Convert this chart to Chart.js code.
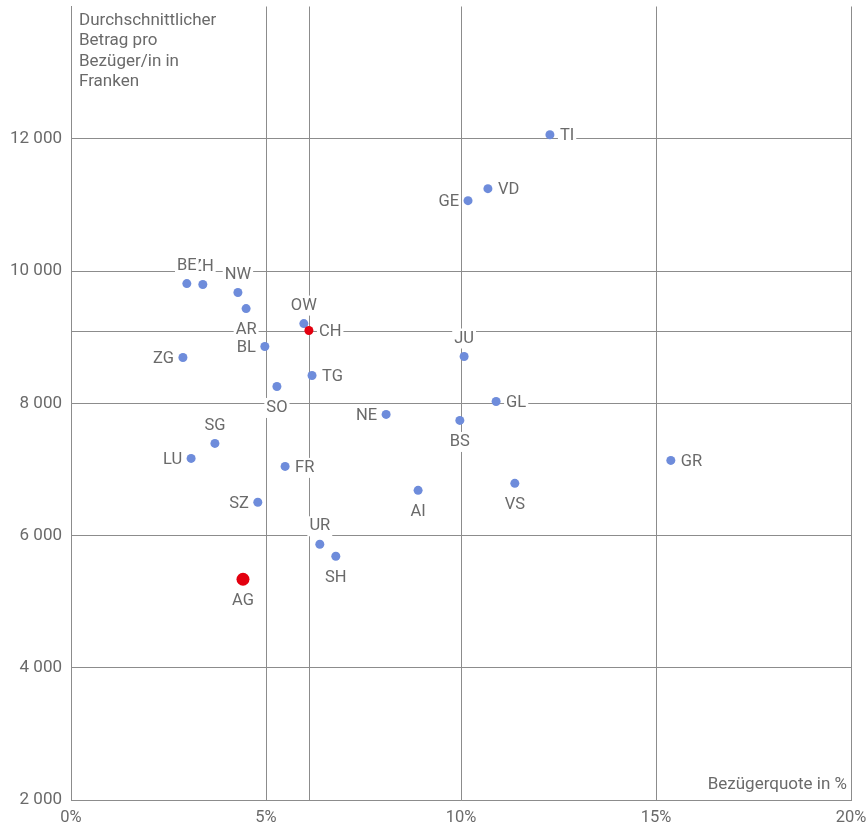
<!DOCTYPE html>
<html>
<head>
<meta charset="utf-8">
<script src="https://cdn.jsdelivr.net/npm/chart.js@4.4.1/dist/chart.umd.min.js"></script>
<style>
  html, body { margin: 0; padding: 0; background: #fff; }
  #wrap { width: 868px; height: 830px; position: relative; }
</style>
</head>
<body>
<div id="wrap"><canvas id="c" width="868" height="830"></canvas></div>
<script>
// ---- Data ----
const cantons = ['ZH','BE','LU','UR','SZ','OW','NW','GL','ZG','FR','SO','BS','BL','SH','AR','AI','SG','GR','AG','TG','TI','VD','VS','NE','GE','JU','CH'];
const quote   = [3.38, 2.97, 3.08, 6.38, 4.79, 5.97, 4.28, 10.90, 2.87, 5.49, 5.28, 9.97, 4.97, 6.79, 4.49, 8.90, 3.69, 15.38, 4.41, 6.18, 12.28, 10.69, 11.38, 8.08, 10.18, 10.08, 6.10];
const betrag  = [9795, 9810, 7166, 5867, 6502, 9205, 9674, 8027, 8692, 7045, 8254, 7740, 8858, 5686, 9432, 6683, 7393, 7136, 5338, 8420, 12061, 11245, 6789, 7831, 11064, 8707, 9100];
const xTicks = [0, 5, 10, 15, 20];
const yTicks = [2000, 4000, 6000, 8000, 10000, 12000];
const chAverage = { quote: 6.10, betrag: 9100 };
const yTitle = ['Durchschnittlicher', 'Betrag pro', 'Bezüger/in in', 'Franken'];
const xTitle = 'Bezügerquote in %';

// ---- Styling ----
const labelSide = {
  ZH:'top', BE:'top', LU:'left', UR:'top', SZ:'left', OW:'top', NW:'top', GL:'right', ZG:'left',
  FR:'right', SO:'bottom', BS:'bottom', BL:'left', SH:'bottom', AR:'bottom', AI:'bottom', SG:'top',
  GR:'right', AG:'bottom', TG:'right', TI:'right', VD:'right', VS:'bottom', NE:'left', GE:'left',
  JU:'top', CH:'right'
};
const highlight = ['CH', 'AG'];
const BLUE = '#6e8cdb', RED = '#e3000f', GRID = '#8c8c8c', TEXT = '#6a6a6a';
const FONT = 'Roboto, "Liberation Sans", sans-serif';

const points = cantons.map((c, i) => ({ x: quote[i], y: betrag[i], label: c }));

const fmt = v => String(v).replace(/\B(?=(\d{3})+(?!\d))/g, ' ');

const overlay = {
  id: 'overlay',
  beforeDatasetsDraw(chart) {
    const { ctx, chartArea: a, scales: { x, y } } = chart;
    ctx.save();
    ctx.strokeStyle = GRID;
    ctx.lineWidth = 1;
    const px = Math.round(x.getPixelForValue(chAverage.quote)) + 0.5;
    const py = Math.round(y.getPixelForValue(chAverage.betrag)) + 0.5;
    ctx.beginPath();
    ctx.moveTo(px, a.top); ctx.lineTo(px, a.bottom);
    ctx.moveTo(a.left, py); ctx.lineTo(a.right, py);
    ctx.stroke();
    ctx.restore();
  },
  afterDatasetsDraw(chart) {
    const { ctx, chartArea: a, scales: { x, y } } = chart;
    ctx.save();
    ctx.font = '16.5px ' + FONT;
    ctx.textBaseline = 'middle';
    points.forEach(p => {
      const cx = x.getPixelForValue(p.x), cy = y.getPixelForValue(p.y);
      const side = labelSide[p.label];
      const w = ctx.measureText(p.label).width;
      let tx, ty;
      if (side === 'right') { tx = cx + 10; ty = cy + 1.5; }
      else if (side === 'left') { tx = cx - 9 - w; ty = cy + 1.5; }
      else if (side === 'top') { tx = cx - w / 2; ty = cy - 18; }
      else { tx = cx - w / 2; ty = cy + 21.5; }
      ctx.fillStyle = '#fff';
      ctx.fillRect(tx - 2, ty - 10, w + 4, 20);
      ctx.fillStyle = TEXT;
      ctx.textAlign = 'left';
      ctx.fillText(p.label, tx, ty);
    });
    // axis titles
    ctx.font = '17px ' + FONT;
    ctx.fillStyle = TEXT;
    ctx.textAlign = 'left';
    ctx.textBaseline = 'middle';
    yTitle.forEach((t, i) => ctx.fillText(t, a.left + 8, a.top + 14 + i * 20.5));
    ctx.textAlign = 'right';
    ctx.fillText(xTitle, a.right - 4, a.bottom - 15);
    ctx.restore();
  }
};

const noPad = s => { s.paddingTop = 0; s.paddingBottom = 0; s.paddingLeft = 0; s.paddingRight = 0; };

new Chart(document.getElementById('c'), {
  type: 'scatter',
  data: {
    datasets: [{
      data: points,
      backgroundColor: points.map(p => highlight.includes(p.label) ? RED : BLUE),
      borderWidth: 0,
      pointRadius: points.map(p => p.label === 'AG' ? 6.5 : 4.5),
      pointHoverRadius: points.map(p => p.label === 'AG' ? 6.5 : 4.5)
    }]
  },
  options: {
    responsive: false,
    animation: false,
    devicePixelRatio: 1,
    layout: { padding: { top: 5, right: 17, left: 0, bottom: 0 } },
    plugins: { legend: { display: false }, tooltip: { enabled: false } },
    scales: {
      x: {
        type: 'linear', min: 0, max: 20,
        afterBuildTicks: s => { s.ticks = xTicks.map(v => ({ value: v })); },
        afterFit: s => { s.height = 30; noPad(s); },
        ticks: { callback: v => v + '%', color: TEXT, font: { family: FONT, size: 16.5 }, padding: 8, maxRotation: 0 },
        grid: { color: GRID, lineWidth: 1, drawTicks: false },
        border: { color: GRID, width: 1 }
      },
      y: {
        type: 'linear', min: 2000, max: 14000,
        afterBuildTicks: s => { s.ticks = yTicks.map(v => ({ value: v })); },
        afterFit: s => { s.width = 71; noPad(s); },
        ticks: { callback: v => fmt(v), color: TEXT, font: { family: FONT, size: 17 }, padding: 9 },
        grid: { color: GRID, lineWidth: 1, drawTicks: false },
        border: { color: GRID, width: 1 }
      }
    }
  },
  plugins: [overlay]
});
</script>
</body>
</html>
